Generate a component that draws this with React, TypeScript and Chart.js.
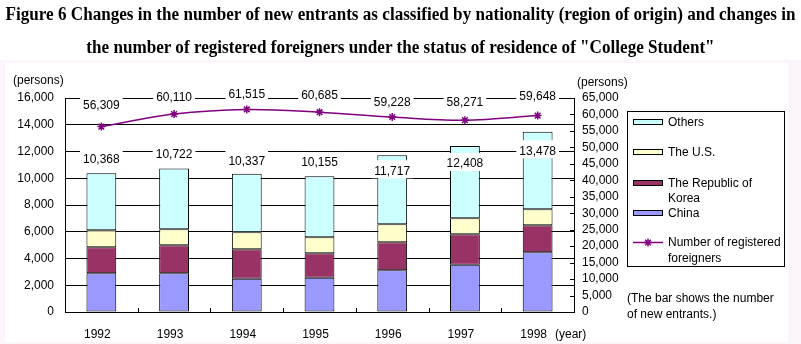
import React, { useEffect, useLayoutEffect, useRef, useState } from "react";
import { Chart, registerables } from "chart.js";
Chart.register(...registerables);

const years = ["1992", "1993", "1994", "1995", "1996", "1997", "1998"];
const china = [2900, 2890, 2490, 2570, 3115, 3540, 4460];
const korea = [1940, 2095, 2195, 1816, 2094, 2266, 2020];
const us = [1270, 1198, 1271, 1197, 1345, 1197, 1196];
const others = [4258, 4539, 4381, 4572, 5163, 5405, 5802];
const totals = [10368, 10722, 10337, 10155, 11717, 12408, 13478];
const registered = [56309, 60110, 61515, 60685, 59228, 58271, 59648];

const leftMax = 16000;
const leftStep = 2000;
const rightMax = 65000;
const rightStep = 5000;

const titleLines = [
  "Figure 6 Changes in the number of new entrants as classified by nationality (region of origin) and changes in",
  "the number of registered foreigners under the status of residence of \"College Student\"",
];

// label placement offsets (pixels relative to the mark)
const barLabelOffsets = [-13.6, -13.9, -12.4, -13.2, 16, 18, 19.6];
const lineLabelOffsets = [-21.3, -16.8, -14.8, -16.9, -14, -17.2, -19.3];

const FONT = '12px "Liberation Sans", Arial, sans-serif';
const TITLE_FONT = 'bold 18px "Liberation Serif", "Times New Roman", serif';
const C_OTHERS = "#CCFFFF";
const C_US = "#FFFFCC";
const C_KOREA = "#993366";
const C_CHINA = "#9999FF";
const C_LINE = "#800080";

const fmt = (n: number) => n.toLocaleString("en-US");

function drawStar(ctx: CanvasRenderingContext2D, x: number, y: number, r: number) {
  ctx.beginPath();
  ctx.moveTo(x - r, y);
  ctx.lineTo(x + r, y);
  ctx.moveTo(x, y - r);
  ctx.lineTo(x, y + r);
  const d = r * 0.707;
  ctx.moveTo(x - d, y - d);
  ctx.lineTo(x + d, y + d);
  ctx.moveTo(x - d, y + d);
  ctx.lineTo(x + d, y - d);
  ctx.stroke();
}

const decor = {
  id: "decor",
  beforeDraw(chart: any) {
    const ctx = chart.ctx as CanvasRenderingContext2D;
    ctx.save();
    ctx.fillStyle = "#ffffff";
    ctx.fillRect(0, 0, chart.width, chart.height);
    ctx.fillStyle = "#FCF5FC";
    ctx.fillRect(0, 60, chart.width, chart.height - 60);
    ctx.fillStyle = "#ffffff";
    ctx.fillRect(5, 63, 783, 279);
    ctx.restore();
  },
  afterDatasetsDraw(chart: any) {
    const ctx = chart.ctx as CanvasRenderingContext2D;
    const { chartArea, scales } = chart;
    const xs = scales.x;
    const y2 = scales.y2;
    ctx.save();
    ctx.strokeStyle = "#000";
    ctx.lineWidth = 1;
    for (let i = 1; i < years.length; i++) {
      const px = Math.round((xs.getPixelForValue(i - 1) + xs.getPixelForValue(i)) / 2) + 0.5;
      ctx.beginPath();
      ctx.moveTo(px, chartArea.bottom);
      ctx.lineTo(px, chartArea.bottom - 4);
      ctx.stroke();
    }
    y2.ticks.forEach((t: any) => {
      const py = Math.round(y2.getPixelForValue(t.value)) + 0.5;
      ctx.beginPath();
      ctx.moveTo(chartArea.right - 4, py);
      ctx.lineTo(chartArea.right, py);
      ctx.stroke();
    });

    ctx.font = FONT;
    ctx.textAlign = "center";
    ctx.textBaseline = "middle";
    const drawLabel = (text: string, cx: number, cy: number) => {
      const w = ctx.measureText(text).width;
      ctx.fillStyle = "#fff";
      ctx.fillRect(cx - w / 2 - 3, cy - 11, w + 6, 18);
      ctx.fillStyle = "#000";
      ctx.fillText(text, cx, cy);
    };
    const topMeta = chart.getDatasetMeta(3);
    const lineMeta = chart.getDatasetMeta(4);
    totals.forEach((v, i) => {
      const el = topMeta.data[i];
      drawLabel(fmt(v), el.x, el.y + barLabelOffsets[i]);
    });
    registered.forEach((v, i) => {
      const el = lineMeta.data[i];
      drawLabel(fmt(v), el.x, el.y + lineLabelOffsets[i]);
    });
    ctx.restore();
  },
  afterDraw(chart: any) {
    const ctx = chart.ctx as CanvasRenderingContext2D;
    const xs = chart.scales.x;
    ctx.save();
    ctx.font = FONT;
    ctx.fillStyle = "#000";
    ctx.textBaseline = "middle";
    ctx.textAlign = "center";
    years.forEach((yr, i) => {
      ctx.fillText(yr, xs.getPixelForValue(i) - 4, 335);
    });
    ctx.textAlign = "left";
    ctx.fillText("(year)", 555, 335);
    ctx.fillText("(persons)", 13, 81);
    ctx.fillText("(persons)", 577, 83);
    ctx.fillText("(The bar shows the number", 627, 299);
    ctx.fillText("of new entrants.)", 627, 315);

    ctx.strokeStyle = "#000";
    ctx.lineWidth = 1;
    ctx.strokeRect(627.5, 111.5, 157, 155);
    const items: [string, string[], number][] = [
      [C_OTHERS, ["Others"], 122],
      [C_US, ["The U.S."], 151.5],
      [C_KOREA, ["The Republic of", "Korea"], 182.5],
      [C_CHINA, ["China"], 212.5],
    ];
    items.forEach(([col, lines, cy]) => {
      ctx.fillStyle = col;
      ctx.fillRect(633.5, Math.round(cy) - 2.5, 29, 5);
      ctx.strokeRect(633.5, Math.round(cy) - 2.5, 29, 5);
      ctx.fillStyle = "#000";
      lines.forEach((ln, k) => ctx.fillText(ln, 668, cy + 1 + k * 15));
    });
    const ly = 242.5;
    ctx.strokeStyle = C_LINE;
    ctx.lineWidth = 1.5;
    ctx.beginPath();
    ctx.moveTo(633, ly);
    ctx.lineTo(663, ly);
    ctx.stroke();
    drawStar(ctx, 648, ly, 4);
    ctx.fillStyle = "#000";
    ctx.fillText("Number of registered", 668, 243);
    ctx.fillText("foreigners", 668, 258.5);
    ctx.restore();
  },
};

export default function App() {
  const canvasRef = useRef<HTMLCanvasElement | null>(null);
  const spanRef = useRef<HTMLSpanElement | null>(null);
  const [sx, setSx] = useState(1);

  useLayoutEffect(() => {
    if (spanRef.current) {
      const w = spanRef.current.offsetWidth;
      if (w > 0) setSx(790 / w);
    }
  }, []);

  useEffect(() => {
    if (!canvasRef.current) return;
    const barCommon = {
      type: "bar" as const,
      borderColor: "#000",
      borderWidth: 1,
      borderSkipped: false,
      barPercentage: 0.41,
      categoryPercentage: 1,
      yAxisID: "y",
      stack: "s",
      order: 1,
    };
    const tickFont = { family: '"Liberation Sans", Arial, sans-serif', size: 12 };
    const chart = new Chart(canvasRef.current, {
      type: "bar",
      data: {
        labels: years,
        datasets: [
          { ...barCommon, label: "China", data: china, backgroundColor: C_CHINA },
          { ...barCommon, label: "The Republic of Korea", data: korea, backgroundColor: C_KOREA },
          { ...barCommon, label: "The U.S.", data: us, backgroundColor: C_US },
          { ...barCommon, label: "Others", data: others, backgroundColor: C_OTHERS },
          {
            type: "line",
            label: "Number of registered foreigners",
            data: registered,
            yAxisID: "y2",
            borderColor: C_LINE,
            borderWidth: 1.5,
            pointStyle: "star",
            pointRadius: 4,
            pointBorderColor: C_LINE,
            pointBorderWidth: 1.5,
            pointBackgroundColor: C_LINE,
            tension: 0.35,
            order: 0,
          } as any,
        ],
      },
      options: {
        responsive: false,
        animation: false,
        devicePixelRatio: 1,
        layout: { padding: { top: 98, left: 0, right: 0, bottom: 0 } },
        plugins: { legend: { display: false }, tooltip: { enabled: false }, title: { display: false } },
        scales: {
          x: {
            stacked: true,
            offset: true,
            grid: { display: true, drawOnChartArea: false, drawTicks: false },
            border: { display: true, color: "#000", width: 1 },
            ticks: { display: false },
            afterFit: (s: any) => {
              s.height = 32;
            },
          },
          y: {
            stacked: true,
            position: "left",
            min: 0,
            max: leftMax,
            grid: { color: "#000", lineWidth: 1, drawTicks: false },
            border: { display: true, color: "#000", width: 1 },
            ticks: {
              stepSize: leftStep,
              autoSkip: false,
              padding: 11,
              color: "#000",
              font: tickFont,
              callback: (v: any) => fmt(Number(v)),
            },
            afterFit: (s: any) => {
              s.width = 65;
            },
          },
          y2: {
            position: "right",
            min: 0,
            max: rightMax,
            grid: { drawOnChartArea: false, drawTicks: false },
            border: { display: true, color: "#000", width: 1 },
            ticks: {
              stepSize: rightStep,
              autoSkip: false,
              padding: 8,
              color: "#000",
              font: tickFont,
              callback: (v: any) => fmt(Number(v)),
            },
            afterFit: (s: any) => {
              s.width = 227;
            },
          },
        },
      } as any,
      plugins: [decor],
    });
    return () => chart.destroy();
  }, []);

  const lineStyle: React.CSSProperties = {
    position: "absolute",
    left: 0,
    width: 801,
    height: 20,
    lineHeight: "20px",
    font: TITLE_FONT,
    color: "#000",
    whiteSpace: "nowrap",
    display: "flex",
    justifyContent: "center",
  };
  const spanStyle: React.CSSProperties = {
    display: "inline-block",
    flex: "none",
    whiteSpace: "pre",
    transform: `scaleX(${sx})`,
    transformOrigin: "center",
  };

  return (
    <div style={{ position: "fixed", left: 0, top: 0, width: 801, height: 344, overflow: "hidden", background: "#fff" }}>
      <canvas ref={canvasRef} width={801} height={344} style={{ position: "absolute", left: 0, top: 0, width: 801, height: 344 }} />
      <div style={{ ...lineStyle, top: 4 }}>
        <span ref={spanRef} style={spanStyle}>{titleLines[0]}</span>
      </div>
      <div style={{ ...lineStyle, top: 37 }}>
        <span style={spanStyle}>{titleLines[1]}</span>
      </div>
    </div>
  );
}
